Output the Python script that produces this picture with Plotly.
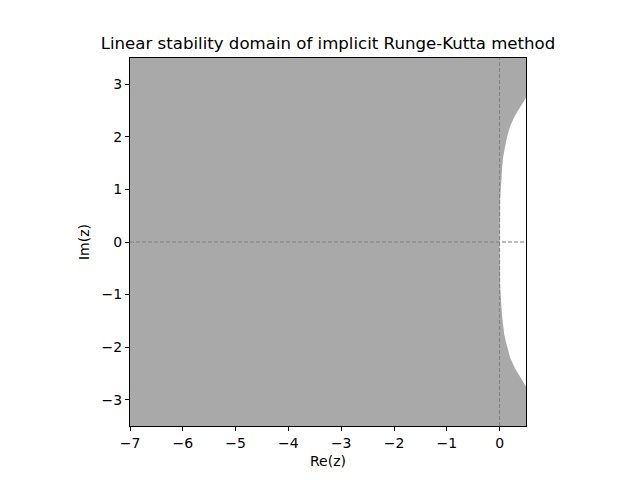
import plotly.graph_objects as go

# Boundary of the unstable (white) region: |R(z)| = 1
boundary_im = [-3.5, -2.75, -2.55, -2.4, -2.2, -2.07, -1.9, -1.75, -1.6,
               -1.43, -1.25, -1.12, -0.8, 0.0,
               0.8, 1.12, 1.25, 1.43, 1.6, 1.75, 1.9, 2.07, 2.2, 2.4, 2.55,
               2.75, 3.5]
boundary_re = [0.5, 0.5, 0.38, 0.29, 0.2, 0.16, 0.12, 0.087, 0.065,
               0.05, 0.035, 0.03, 0.01, 0.0,
               0.01, 0.03, 0.035, 0.05, 0.065, 0.087, 0.12, 0.16, 0.2, 0.29,
               0.38, 0.5, 0.5]

x_range = [-7, 0.5]
y_range = [-3.5, 3.5]
x_ticks = [-7, -6, -5, -4, -3, -2, -1, 0]
x_ticktext = ["\u22127", "\u22126", "\u22125", "\u22124", "\u22123", "\u22122", "\u22121", "0"]
y_ticks = [-3, -2, -1, 0, 1, 2, 3]
y_ticktext = ["\u22123", "\u22122", "\u22121", "0", "1", "2", "3"]

# stable region polygon: left part of the box cut by the boundary
poly_x = [x_range[0]] + boundary_re + [x_range[0], x_range[0]]
poly_y = [y_range[0]] + boundary_im + [y_range[1], y_range[0]]

fig = go.Figure()
fig.add_trace(go.Scatter(
    x=poly_x, y=poly_y, mode="lines", fill="toself",
    fillcolor="#a9a9a9", line=dict(width=0, color="#a9a9a9"),
    hoverinfo="skip", showlegend=False))

fig.add_hline(y=0, line=dict(color="gray", width=1, dash="4px,2px"))
fig.add_vline(x=0, line=dict(color="gray", width=1, dash="4px,2px"))

axis_common = dict(
    showgrid=False, zeroline=False, showline=True, linecolor="black",
    linewidth=1, mirror=True, ticks="outside", ticklen=4, tickcolor="black",
    tickfont=dict(size=14, color="black"),
)
# page body adds an 8px offset, so margins are shifted left/up by 8px
fig.update_layout(
    width=640, height=480,
    paper_bgcolor="white", plot_bgcolor="white",
    font=dict(family="DejaVu Sans", size=14, color="black"),
    margin=dict(l=122, r=122, t=50, b=62),
    title=dict(text="Linear stability domain of implicit Runge-Kutta method",
               x=320 / 640, xanchor="center", y=1 - 35 / 480, yanchor="middle",
               font=dict(size=16.6, color="black")),
    xaxis=dict(range=x_range, tickvals=x_ticks, ticktext=x_ticktext,
               title=dict(text="Re(z)", standoff=6, font=dict(size=14)),
               **axis_common),
    yaxis=dict(range=y_range, tickvals=y_ticks, ticktext=y_ticktext,
               title=dict(text="Im(z)", standoff=8, font=dict(size=14)),
               **axis_common),
    showlegend=False,
)

fig.write_html("out.html")
